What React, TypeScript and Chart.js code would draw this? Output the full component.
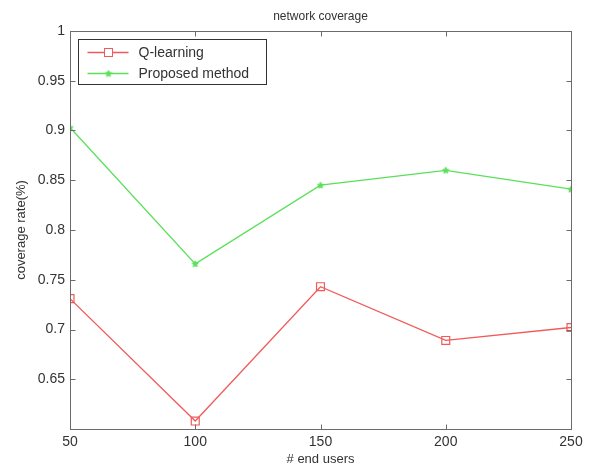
import React, { useEffect, useRef } from 'react';
import { Chart, registerables } from 'chart.js';
Chart.register(...registerables);

const endUsers = [50, 100, 150, 200, 250];
const qLearning = [0.731, 0.608, 0.743, 0.689, 0.702];
const proposed = [0.903, 0.766, 0.845, 0.86, 0.841];
const seriesLabels = ['Q-learning', 'Proposed method'];
const chartTitle = 'network coverage';
const xTitle = '# end users';
const yTitle = 'coverage rate(%)';

const RED = '#f05a5a';
const GREEN = '#5ae05a';
const AXIS = '#6b6b6b';
const TEXT = '#333333';
const FONT = 'Arial, "Liberation Sans", Helvetica, sans-serif';

function makeStar(color: string): HTMLCanvasElement {
  const c = document.createElement('canvas');
  c.width = 8;
  c.height = 8;
  const g = c.getContext('2d')!;
  g.strokeStyle = color;
  g.fillStyle = color;
  g.lineWidth = 1;
  g.beginPath();
  for (let i = 0; i < 10; i++) {
    const r = i % 2 === 0 ? 3.4 : 1.5;
    const a = -Math.PI / 2 + (i * Math.PI) / 5;
    const px = 4 + r * Math.cos(a);
    const py = 4.3 + r * Math.sin(a);
    if (i === 0) g.moveTo(px, py);
    else g.lineTo(px, py);
  }
  g.closePath();
  g.fill();
  g.stroke();
  return c;
}

const framePlugin = {
  id: 'frameTicks',
  afterDraw(chart: any) {
    const { ctx, chartArea } = chart;
    const { left, right, top, bottom } = chartArea;
    const xs = chart.scales.x;
    const ys = chart.scales.y;
    ctx.save();
    ctx.strokeStyle = AXIS;
    ctx.lineWidth = 1;
    const L = Math.round(left) + 0.5;
    const R = Math.round(right) + 0.5;
    const T = Math.round(top) + 0.5;
    const B = Math.round(bottom) + 0.5;
    ctx.strokeRect(L, T, R - L, B - T);
    const tl = 5;
    ctx.beginPath();
    xs.ticks.forEach((t: any) => {
      const px = Math.round(xs.getPixelForValue(t.value)) + 0.5;
      ctx.moveTo(px, B);
      ctx.lineTo(px, B - tl);
      ctx.moveTo(px, T);
      ctx.lineTo(px, T + tl);
    });
    ys.ticks.forEach((t: any) => {
      const py = Math.round(ys.getPixelForValue(t.value)) + 0.5;
      ctx.moveTo(L, py);
      ctx.lineTo(L + tl, py);
      ctx.moveTo(R, py);
      ctx.lineTo(R - tl, py);
    });
    ctx.stroke();

    // legend box
    const bx = L + 8;
    const by = T + 8;
    const bw = 188;
    const bh = 45;
    ctx.fillStyle = '#ffffff';
    ctx.fillRect(bx, by, bw, bh);
    ctx.strokeStyle = '#333333';
    ctx.strokeRect(bx, by, bw, bh);
    ctx.font = '14px ' + FONT;
    ctx.textBaseline = 'middle';
    ctx.textAlign = 'left';
    chart.data.datasets.forEach((ds: any, i: number) => {
      const cy = Math.round(by + 12 + i * 21) + 0.5;
      ctx.strokeStyle = ds.borderColor;
      ctx.lineWidth = ds.borderWidth;
      ctx.beginPath();
      ctx.moveTo(bx + 9, cy);
      ctx.lineTo(bx + 50, cy);
      ctx.stroke();
      ctx.lineWidth = 1;
      const mx = bx + 30;
      if (ds.pointStyle === 'rect') {
        ctx.fillStyle = '#ffffff';
        ctx.fillRect(mx - 4, cy - 4, 8, 8);
        ctx.strokeRect(mx - 4, cy - 4, 8, 8);
      } else {
        const img = ds.pointStyle as HTMLCanvasElement;
        ctx.drawImage(img, mx - img.width / 2, cy - img.height / 2);
      }
      ctx.fillStyle = TEXT;
      ctx.fillText(ds.label, bx + 60, cy + 1);
    });
    ctx.restore();
  },
};

export default function App() {
  const ref = useRef<HTMLCanvasElement>(null);
  useEffect(() => {
    const star = makeStar(GREEN);
    const chart = new Chart(ref.current!, {
      type: 'line',
      data: {
        datasets: [
          {
            label: seriesLabels[0],
            data: endUsers.map((x, i) => ({ x, y: qLearning[i] })),
            borderColor: RED,
            backgroundColor: '#ffffff',
            borderWidth: 1.3,
            pointStyle: 'rect',
            pointRadius: 5.6,
            pointBorderWidth: 1.2,
            pointBorderColor: RED,
            pointBackgroundColor: 'rgba(255,255,255,0)',
            tension: 0,
          },
          {
            label: seriesLabels[1],
            data: endUsers.map((x, i) => ({ x, y: proposed[i] })),
            borderColor: GREEN,
            backgroundColor: GREEN,
            borderWidth: 1.3,
            pointStyle: star as any,
            pointRadius: 4,
            tension: 0,
          },
        ],
      },
      options: {
        responsive: false,
        animation: false,
        layout: { padding: { left: 0, right: 22, top: 0, bottom: 0 } },
        plugins: {
          legend: { display: false },
          tooltip: { enabled: false },
          title: {
            display: true,
            text: chartTitle,
            fullSize: false,
            color: TEXT,
            font: { family: FONT, size: 12, weight: 'normal' },
            padding: { top: 9, bottom: 7.6 },
          },
        },
        scales: {
          x: {
            type: 'linear',
            min: 50,
            max: 250,
            grid: { display: false, drawTicks: false },
            border: { display: false },
            ticks: {
              stepSize: 50,
              padding: 5,
              color: TEXT,
              font: { family: FONT, size: 14 },
              maxRotation: 0,
            },
            title: {
              display: true,
              text: xTitle,
              color: TEXT,
              font: { family: FONT, size: 13 },
              padding: { top: 0, bottom: 1 },
            },
            afterFit: (s: any) => {
              s.height = 39;
            },
          },
          y: {
            min: 0.6,
            max: 1,
            grid: { display: false, drawTicks: false },
            border: { display: false },
            ticks: {
              stepSize: 0.05,
              padding: 5,
              color: TEXT,
              font: { family: FONT, size: 14 },
              callback: (v: any) => {
                const n = Math.round(Number(v) * 100) / 100;
                if (n === 0.6) return '';
                return String(n);
              },
            },
            title: {
              display: true,
              text: yTitle,
              color: TEXT,
              font: { family: FONT, size: 13 },
              padding: { top: 14, bottom: 0 },
            },
            afterFit: (s: any) => {
              s.width = 70;
            },
          },
        },
      },
      plugins: [framePlugin],
    });
    return () => chart.destroy();
  }, []);
  return (
    <div style={{ position: 'absolute', left: 0, top: 0, width: 593, height: 468, background: '#fff' }}>
      <canvas ref={ref} width={593} height={468} style={{ display: 'block' }} />
    </div>
  );
}
